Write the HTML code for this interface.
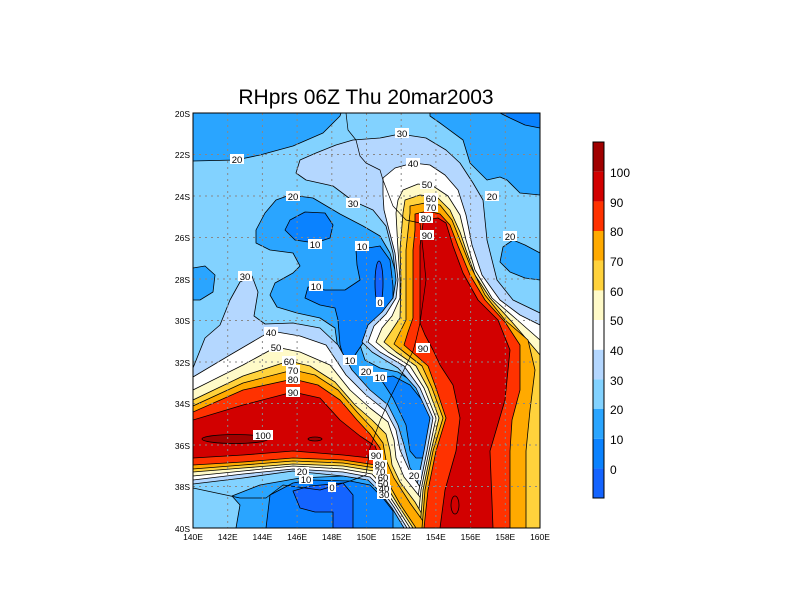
<!DOCTYPE html>
<html><head><meta charset="utf-8"><style>html,body{margin:0;padding:0;background:#fff}svg{display:block}</style></head>
<body>
<svg width="800" height="600" viewBox="0 0 800 600" xmlns="http://www.w3.org/2000/svg" font-family="Liberation Sans, sans-serif">
<defs><clipPath id="c"><rect x="193" y="113" width="347" height="415"/></clipPath></defs>
<text x="366" y="104" font-size="21" text-anchor="middle">RHprs 06Z Thu 20mar2003</text>
<g clip-path="url(#c)" stroke="#000" stroke-width="0.8" stroke-linejoin="round">
<rect x="193" y="113" width="347" height="415" fill="#82d2ff" stroke="none"/>
<g fill="#2aa5ff">
<path d="M193,113 L341,113 L340,116 L323,133 L293,146 L260,155 L236,160 L193,161 Z"/>
<path d="M430,113 L430,116 L440,123 L463,140 L470,163 L487,180 L500,177 L507,180 L520,193 L540,195 L540,113 Z"/>
<path d="M540,253 L525,245 L513,240 L503,247 L500,262 L510,272 L525,278 L540,280 Z"/>
<path d="M193,268 L205,266 L215,275 L213,292 L200,300 L193,300 Z"/>
<path d="M276,200 L290,195 L313,198 L340,214 L363,226 L380,236 L390,253 L398,280 L400,305 L395,330 L375,335 L360,345 L365,360 L380,368 L398,372 L418,385 L436,410 L438,445 L430,472 L414,482 L402,470 L396,445 L390,420 L376,400 L358,385 L345,372 L338,350 L335,328 L320,318 L297,313 L277,307 L270,295 L275,283 L293,273 L300,266 L293,253 L270,250 L256,243 L256,230 L265,213 Z"/>
<path d="M236,528 L240,505 L232,496 L260,485 L300,478 L343,476 L370,480 L380,490 L394,508 L406,528 Z"/>
</g>
<g fill="#0a82ff">
<path d="M500,113 L510,118 L525,125 L540,128 L540,113 Z"/>
<path d="M290,220 L305,212 L325,213 L333,225 L330,238 L315,243 L295,240 L285,230 Z"/>
<path d="M356,250 L380,246 L390,260 L393,286 L393,313 L380,330 L365,340 L355,355 L352,362 L345,362 L340,345 L338,320 L335,308 L320,305 L305,298 L308,287 L325,290 L345,290 L360,280 L357,265 Z"/>
<path d="M380,378 L393,398 L406,425 L410,451 L416,458 L423,458 L433,428 L426,405 L410,385 L393,376 Z"/>
<path d="M266,528 L270,495 L293,483 L310,480 L350,481 L370,485 L383,498 L393,511 L393,528 Z"/>
</g>
<g fill="#1464ff">
<ellipse cx="379" cy="283" rx="4" ry="22"/>
<path d="M293,491 L310,486 L343,483 L353,495 L353,528 L333,528 L333,512 L315,512 L300,508 Z"/>
</g>
<g fill="#b4d7ff">
<path d="M193,368 L205,338 L220,325 L230,300 L240,282 L252,276 L258,292 L254,316 L265,324 L293,323 L320,328 L338,345 L352,370 L370,390 L388,405 L398,425 L404,445 L410,468 L422,484 L432,528 L404,528 L392,508 L378,490 L368,480 L343,476 L293,471 L243,478 L193,484 Z"/>
<path d="M296,173 L300,160 L316,153 L336,145 L353,140 L380,138 L400,134 L426,138 L446,150 L460,163 L473,183 L483,200 L487,240 L497,280 L513,300 L540,313 L540,528 L410,528 L416,490 L424,451 L430,418 L416,388 L398,368 L372,352 L362,342 L368,325 L382,312 L393,298 L396,280 L393,253 L386,226 L373,210 L353,201 L333,186 L306,180 Z"/>
</g>
<g fill="#ffffff">
<path d="M193,377 L230,355 L271,331 L300,336 L326,345 L346,375 L366,395 L386,411 L396,430 L400,450 L410,472 L422,490 L432,528 L407,528 L394,507 L380,487 L370,477 L343,472 L293,469 L243,474 L193,480 Z"/>
<path d="M383,178 L395,168 L413,163 L430,165 L445,175 L458,190 L466,215 L472,245 L482,275 L500,300 L520,315 L540,325 L540,528 L414,528 L419,490 L427,451 L433,418 L420,388 L404,366 L380,352 L368,342 L374,326 L386,314 L396,298 L398,280 L395,253 L388,226 L384,210 L383,195 Z"/>
</g>
<g fill="#fffac8">
<path d="M193,390 L243,365 L276,347 L300,352 L330,365 L350,390 L370,408 L388,422 L394,440 L396,458 L404,477 L420,497 L432,528 L410,528 L396,506 L382,485 L372,474 L343,469 L293,466 L243,471 L193,476 Z"/>
<path d="M403,190 L418,184 L433,186 L448,196 L460,215 L466,240 L475,270 L492,298 L515,318 L540,340 L540,528 L417,528 L421,490 L429,451 L436,418 L424,388 L410,366 L388,352 L376,342 L382,328 L392,316 L400,298 L400,280 L398,250 L396,213 L398,200 Z"/>
</g>
<g fill="#ffd23c">
<path d="M193,400 L243,376 L289,361 L310,366 L335,382 L355,405 L372,420 L386,434 L390,450 L392,465 L400,482 L415,502 L430,528 L413,528 L398,505 L384,482 L374,471 L343,466 L293,464 L243,468 L193,472 Z"/>
<path d="M405,200 L420,195 L437,197 L450,210 L460,232 L466,250 L475,275 L490,298 L512,322 L540,355 L540,528 L420,528 L423,490 L431,451 L439,418 L428,388 L416,366 L396,352 L384,342 L392,330 L400,318 L401,280 L400,250 L403,213 Z"/>
</g>
<g fill="#ffaa00">
<path d="M193,406 L243,383 L293,370 L315,375 L338,390 L357,412 L372,428 L383,443 L386,460 L394,478 L410,503 L428,528 L416,528 L400,504 L386,479 L376,468 L343,463 L293,461 L243,465 L193,469 Z"/>
<path d="M410,206 L425,203 L440,205 L452,220 L460,240 L470,265 L485,295 L505,320 L528,340 L535,370 L530,410 L526,451 L526,528 L422,528 L425,490 L433,451 L443,418 L432,388 L422,366 L404,352 L394,344 L400,332 L406,320 L406,280 L406,250 L410,213 Z"/>
</g>
<g fill="#ff3200">
<path d="M193,412 L243,390 L293,379 L318,385 L340,400 L357,420 L370,434 L380,448 L382,460 L376,465 L343,460 L293,458 L243,462 L193,465 Z"/>
<path d="M415,214 L428,211 L440,214 L450,225 L458,246 L470,275 L485,300 L505,322 L520,345 L520,390 L512,420 L510,451 L510,528 L424,528 L428,490 L436,451 L446,418 L436,388 L428,366 L412,352 L404,345 L408,332 L413,318 L413,280 L413,250 L415,230 Z"/>
</g>
<g fill="#d20000">
<path d="M193,420 L243,405 L293,392 L320,398 L340,420 L360,436 L375,446 L378,454 L370,458 L343,455 L293,451 L243,455 L193,458 Z"/>
<path d="M426,220 L438,218 L446,223 L453,246 L463,273 L478,300 L498,320 L510,350 L505,400 L490,451 L493,528 L440,528 L445,490 L456,451 L460,418 L453,385 L440,365 L433,350 L425,335 L420,323 L420,246 L423,223 Z"/>
</g>
<g fill="#a00000">
<ellipse cx="235" cy="439" rx="33" ry="4.5"/>
<ellipse cx="315" cy="439" rx="7" ry="2"/>
</g>
<ellipse cx="455" cy="505" rx="4" ry="9" fill="none"/>
<path d="M346,113 L348,130 L356,140 L360,156 L366,163 L380,170 L383,180 L393,206 L406,220 L420,223 L423,250 L426,280 L420,323 L416,340 L413,351 L400,378 L390,398 L380,421 L370,448 L366,475 L350,481 L320,490 L283,485 L266,498 L240,498 L193,488" fill="none" stroke-width="0.7"/>
</g>
<g stroke="#888" stroke-width="1" stroke-dasharray="2,4">
<line x1="227.7" y1="113" x2="227.7" y2="528"/><line x1="262.4" y1="113" x2="262.4" y2="528"/><line x1="297.1" y1="113" x2="297.1" y2="528"/><line x1="331.8" y1="113" x2="331.8" y2="528"/><line x1="366.5" y1="113" x2="366.5" y2="528"/><line x1="401.2" y1="113" x2="401.2" y2="528"/><line x1="435.9" y1="113" x2="435.9" y2="528"/><line x1="470.6" y1="113" x2="470.6" y2="528"/><line x1="505.3" y1="113" x2="505.3" y2="528"/>
<line x1="193" y1="154.5" x2="540" y2="154.5"/><line x1="193" y1="196" x2="540" y2="196"/><line x1="193" y1="237.5" x2="540" y2="237.5"/><line x1="193" y1="279" x2="540" y2="279"/><line x1="193" y1="320.5" x2="540" y2="320.5"/><line x1="193" y1="362" x2="540" y2="362"/><line x1="193" y1="403.5" x2="540" y2="403.5"/><line x1="193" y1="445" x2="540" y2="445"/><line x1="193" y1="486.5" x2="540" y2="486.5"/>
</g>
<rect x="193" y="113" width="347" height="415" fill="none" stroke="#000" stroke-width="1"/>
<g font-size="9.5" text-anchor="middle">
<g fill="#fff"><rect x="395" y="128" width="14" height="10"/><rect x="230" y="154" width="14" height="10"/><rect x="406" y="158" width="14" height="10"/><rect x="420" y="179" width="14" height="10"/><rect x="485" y="191" width="14" height="10"/><rect x="286" y="191" width="14" height="10"/><rect x="346" y="198" width="14" height="10"/><rect x="424" y="193" width="14" height="10"/><rect x="424" y="202" width="14" height="10"/><rect x="419" y="213" width="14" height="10"/><rect x="420" y="230" width="14" height="10"/><rect x="503" y="231" width="14" height="10"/><rect x="308" y="239" width="14" height="10"/><rect x="355" y="241" width="14" height="10"/><rect x="238" y="271" width="14" height="10"/><rect x="309" y="281" width="14" height="10"/><rect x="376" y="297" width="8" height="10"/><rect x="264" y="327" width="14" height="10"/><rect x="269" y="342" width="14" height="10"/><rect x="282" y="356" width="14" height="10"/><rect x="286" y="365" width="14" height="10"/><rect x="286" y="374" width="14" height="10"/><rect x="286" y="387" width="14" height="10"/><rect x="343" y="355" width="14" height="10"/><rect x="359" y="366" width="14" height="10"/><rect x="373" y="372" width="14" height="10"/><rect x="416" y="343" width="14" height="10"/><rect x="253" y="430" width="20" height="10"/><rect x="369" y="450" width="14" height="10"/><rect x="373" y="460" width="14" height="8"/><rect x="373" y="468" width="14" height="7"/><rect x="376" y="474" width="14" height="7"/><rect x="376" y="480" width="14" height="7"/><rect x="377" y="485" width="14" height="7"/><rect x="377" y="490" width="14" height="9"/><rect x="295" y="467" width="14" height="9"/><rect x="299" y="475" width="14" height="9"/><rect x="328" y="482" width="8" height="10"/><rect x="407" y="470" width="14" height="10"/></g>
<text x="402" y="137">30</text><text x="237" y="163">20</text><text x="413" y="167">40</text><text x="427" y="188">50</text><text x="492" y="200">20</text><text x="293" y="200">20</text><text x="353" y="207">30</text><text x="431" y="202">60</text><text x="431" y="211">70</text><text x="426" y="222">80</text><text x="427" y="239">90</text><text x="510" y="240">20</text><text x="315" y="248">10</text><text x="362" y="250">10</text><text x="245" y="280">30</text><text x="316" y="290">10</text><text x="380" y="306">0</text><text x="271" y="336">40</text><text x="276" y="351">50</text><text x="289" y="365">60</text><text x="293" y="374">70</text><text x="293" y="383">80</text><text x="293" y="396">90</text><text x="350" y="364">10</text><text x="366" y="375">20</text><text x="380" y="381">10</text><text x="423" y="352">90</text><text x="263" y="439">100</text><text x="376" y="459">90</text><text x="380" y="468">80</text><text x="380" y="475">70</text><text x="383" y="481">60</text><text x="383" y="487">50</text><text x="384" y="492">40</text><text x="384" y="498">30</text><text x="302" y="475">20</text><text x="306" y="483">10</text><text x="332" y="491">0</text><text x="414" y="479">20</text>
</g>
<g font-size="8.5" text-anchor="end">
<text x="190" y="117">20S</text><text x="190" y="158">22S</text><text x="190" y="200">24S</text><text x="190" y="241">26S</text><text x="190" y="283">28S</text><text x="190" y="324">30S</text><text x="190" y="366">32S</text><text x="190" y="407">34S</text><text x="190" y="449">36S</text><text x="190" y="490">38S</text><text x="190" y="532">40S</text>
</g>
<g font-size="8.5" text-anchor="middle">
<text x="193" y="540">140E</text><text x="227.7" y="540">142E</text><text x="262.4" y="540">144E</text><text x="297.1" y="540">146E</text><text x="331.8" y="540">148E</text><text x="366.5" y="540">150E</text><text x="401.2" y="540">152E</text><text x="435.9" y="540">154E</text><text x="470.6" y="540">156E</text><text x="505.3" y="540">158E</text><text x="540" y="540">160E</text>
</g>
<g stroke="none">
<rect x="593" y="468.3" width="11" height="29.7" fill="#1464ff"/>
<rect x="593" y="438.7" width="11" height="29.7" fill="#0a82ff"/>
<rect x="593" y="409" width="11" height="29.7" fill="#2aa5ff"/>
<rect x="593" y="379.3" width="11" height="29.7" fill="#82d2ff"/>
<rect x="593" y="349.7" width="11" height="29.7" fill="#b4d7ff"/>
<rect x="593" y="320" width="11" height="29.7" fill="#ffffff"/>
<rect x="593" y="290.3" width="11" height="29.7" fill="#fffac8"/>
<rect x="593" y="260.7" width="11" height="29.7" fill="#ffd23c"/>
<rect x="593" y="231" width="11" height="29.7" fill="#ffaa00"/>
<rect x="593" y="201.3" width="11" height="29.7" fill="#ff3200"/>
<rect x="593" y="171.7" width="11" height="29.7" fill="#d20000"/>
<rect x="593" y="142" width="11" height="29.7" fill="#a00000"/>
</g>
<rect x="593" y="142" width="11" height="356" fill="none" stroke="#000" stroke-width="1"/>
<g font-size="12">
<text x="610" y="474">0</text><text x="610" y="444">10</text><text x="610" y="414">20</text><text x="610" y="385">30</text><text x="610" y="355">40</text><text x="610" y="325">50</text><text x="610" y="296">60</text><text x="610" y="266">70</text><text x="610" y="236">80</text><text x="610" y="207">90</text><text x="610" y="177">100</text>
</g>
</svg>
</body></html>
